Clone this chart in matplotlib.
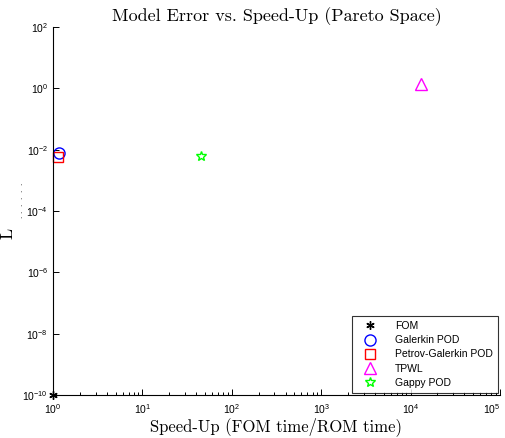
import matplotlib.pyplot as plt
import numpy as np
from matplotlib.ticker import LogLocator, FixedLocator, NullLocator, NullFormatter

# data
methods = ["FOM", "Galerkin POD", "Petrov-Galerkin POD", "TPWL", "Gappy POD"]
speedup = [1.0, 1.17, 1.15, 1.3e4, 45.0]
error = [1e-10, 8.0e-3, 5.8e-3, 1.4, 6.2e-3]
markers = [(6, 2, 0), "o", "s", "^", "*"]
colors = ["black", "blue", "red", "magenta", "lime"]
sizes = [6, 8, 7, 9, 7]
fills = ["black", "none", "none", "none", "none"]

y_ticks = [1e-10, 1e-8, 1e-6, 1e-4, 1e-2, 1e0, 1e2]
y_labels = ["$10^{-10}$", "$10^{-8}$", "$10^{-6}$", "$10^{-4}$", "$10^{-2}$", "$10^{0}$", "$10^{2}$"]
x_ticks = [1e0, 1e1, 1e2, 1e3, 1e4, 1e5]
x_labels = ["$10^{0}$", "$10^{1}$", "$10^{2}$", "$10^{3}$", "$10^{4}$", "$10^{5}$"]

plt.rcParams["font.family"] = "Liberation Sans"
plt.rcParams["mathtext.fontset"] = "custom"
plt.rcParams["mathtext.rm"] = "Liberation Sans"
plt.rcParams["mathtext.it"] = "Liberation Sans"

fig = plt.figure(figsize=(5.05, 4.38), dpi=100)
ax = fig.add_axes([0.105, 0.098, 0.885, 0.84])

for m, x, y, mk, c, s, f in zip(methods, speedup, error, markers, colors, sizes, fills):
    ax.plot([x], [y], linestyle="none", marker=mk, markersize=s,
            markeredgecolor=c, markerfacecolor=f, markeredgewidth=1.0,
            label=m, clip_on=False)

ax.set_xscale("log")
ax.set_yscale("log")
ax.set_xlim(1, 1e5)
ax.set_ylim(1e-10, 1e2)

ax.yaxis.set_major_locator(FixedLocator(y_ticks))
ax.set_yticklabels(y_labels)
ax.yaxis.set_minor_locator(NullLocator())
ax.xaxis.set_major_locator(FixedLocator(x_ticks))
ax.set_xticklabels(x_labels)
ax.xaxis.set_minor_locator(LogLocator(base=10, subs=np.arange(2, 10)))
ax.xaxis.set_minor_formatter(NullFormatter())

ax.tick_params(which="both", direction="in", labelsize=7.5, width=0.7)
ax.tick_params(which="major", length=4)
ax.tick_params(which="minor", length=2.5)
ax.tick_params(axis="x", pad=5)
ax.spines["top"].set_visible(False)
ax.spines["right"].set_visible(False)
for sp in ["left", "bottom"]:
    ax.spines[sp].set_linewidth(0.8)
# keep the last x label inside the picture
ax.get_xticklabels()[-1].set_horizontalalignment("right")

ax.set_title("Model Error vs. Speed-Up (Pareto Space)", family="cmr10",
             fontsize=13, pad=4)
ax.set_xlabel("Speed-Up (FOM time/ROM time)", family="cmr10", fontsize=12,
              labelpad=1)
ax.set_ylabel("L", family="cmr10", fontsize=13)
ax.yaxis.set_label_coords(-0.085, 0.44)
ax.text(-0.07, 0.53, r"$\cdot\;\cdot\;\cdot\;\cdot\;\cdot\;\cdot$",
        transform=ax.transAxes, rotation=90, fontsize=6,
        ha="center", va="center")

leg = ax.legend(loc="lower right", fontsize=7.5, frameon=True, fancybox=False,
                edgecolor="black", borderpad=0.5, handletextpad=1.2,
                handlelength=2.4, labelspacing=0.4, borderaxespad=0.2)
leg.get_frame().set_linewidth(0.8)

fig.savefig("out.png", dpi=100)
